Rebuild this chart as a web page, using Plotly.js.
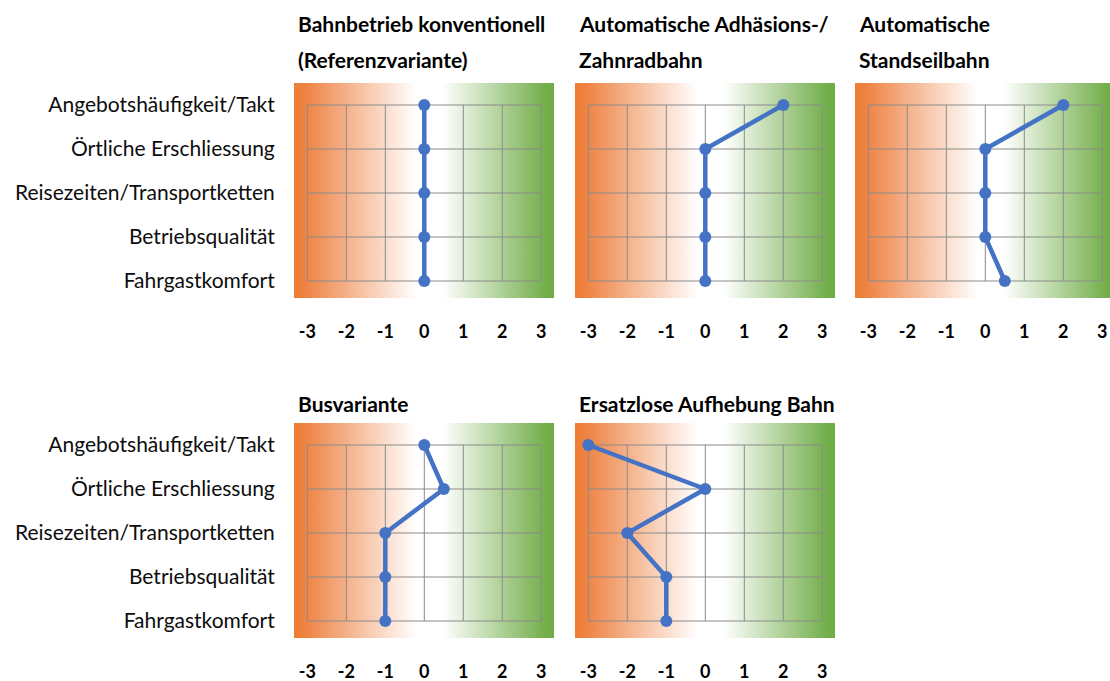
<!DOCTYPE html>
<html>
<head>
<meta charset="utf-8">
<script src="https://cdn.plot.ly/plotly-3.0.1.min.js"></script>
<style>html,body{margin:0;padding:0;background:#fff;}#chart{width:1110px;height:681px;}</style>
</head>
<body>
<div id="chart"></div>
<script>
// ---- data ----
const categories = ['Angebotshäufigkeit/Takt', 'Örtliche Erschliessung', 'Reisezeiten/Transportketten', 'Betriebsqualität', 'Fahrgastkomfort'];
const panelTitles = [
  ['Bahnbetrieb konventionell', '(Referenzvariante)'],
  ['Automatische Adhäsions-/', 'Zahnradbahn'],
  ['Automatische', 'Standseilbahn'],
  ['Busvariante'],
  ['Ersatzlose Aufhebung Bahn']
];
const valuesBahnKonventionell = [0, 0, 0, 0, 0];
const valuesAdhaesionZahnrad = [2, 0, 0, 0, 0];
const valuesStandseilbahn = [2, 0, 0, 0, 0.5];
const valuesBusvariante = [0, 0.5, -1, -1, -1];
const valuesAufhebung = [-3, 0, -2, -1, -1];
const xTickVals = [-3, -2, -1, 0, 1, 2, 3];
const xTickText = ['-3', '-2', '-1', '0', '1', '2', '3'];
const panelValues = [valuesBahnKonventionell, valuesAdhaesionZahnrad, valuesStandseilbahn, valuesBusvariante, valuesAufhebung];

// ---- layout geometry ----
const W = 1110, H = 681;
const FONT = 'Lato, "Open Sans", sans-serif';
const colX0 = [307.3, 588.3, 868.3];
const rowTop = [105, 445];
const unit = 39, catStep = 44;
const padL = 13.3, padR = 12.7, padT = 22, padB = 17;
const panelPos = [[0, 0], [1, 0], [2, 0], [0, 1], [1, 1]];
const gradStart = xTickVals[0] - padL / unit;
const gradStop = xTickVals[xTickVals.length - 1] + padR / unit;
const nCat = categories.length;
const catIdx = categories.map((c, i) => i);

const traces = [];
const layout = {
  width: W, height: H,
  margin: {l: 0, r: 0, t: 0, b: 0},
  paper_bgcolor: '#ffffff', plot_bgcolor: 'rgba(0,0,0,0)',
  showlegend: false,
  annotations: [],
  hovermode: false
};

panelPos.forEach(([col, row], p) => {
  const n = p + 1;
  const xa = 'x' + (n === 1 ? '' : n), ya = 'y' + (n === 1 ? '' : n);
  const x0 = colX0[col];
  const gridW = unit * (xTickVals.length - 1);
  const L = x0 - padL;
  const R = Math.min(x0 + gridW + padR, W);
  const T = rowTop[row] - padT;
  const B = rowTop[row] + catStep * (nCat - 1) + padB;
  const xr = [xTickVals[0] - (x0 - L) / unit, xTickVals[0] + (R - x0) / unit];
  const yr = [(nCat - 1) + padB / catStep, -padT / catStep];

  // gradient background
  traces.push({
    type: 'scatter', mode: 'none', xaxis: xa, yaxis: ya,
    x: [xr[0], xr[1], xr[1], xr[0], xr[0]],
    y: [yr[0], yr[0], yr[1], yr[1], yr[0]],
    fill: 'toself',
    fillgradient: {
      type: 'horizontal', start: gradStart, stop: gradStop,
      colorscale: [[0, '#ED7D31'], [0.04, '#EE8242'], [0.47, '#FFFFFF'], [0.57, '#FFFFFF'], [0.97, '#72AE4A'], [1, '#70AD47']]
    },
    hoverinfo: 'skip'
  });

  // grid lines
  const gx = [], gy = [];
  xTickVals.forEach(v => { gx.push(v, v, null); gy.push(0, nCat - 1, null); });
  catIdx.forEach(i => { gx.push(xTickVals[0], xTickVals[xTickVals.length - 1], null); gy.push(i, i, null); });
  traces.push({
    type: 'scatter', mode: 'lines', xaxis: xa, yaxis: ya,
    x: gx, y: gy, line: {color: '#8a8a8a', width: 1}, hoverinfo: 'skip'
  });

  // data line
  traces.push({
    type: 'scatter', mode: 'lines+markers', xaxis: xa, yaxis: ya,
    x: panelValues[p], y: catIdx,
    line: {color: '#4472C4', width: 4.5},
    marker: {color: '#4472C4', size: 12},
    cliponaxis: false
  });

  const xKey = 'xaxis' + (n === 1 ? '' : n), yKey = 'yaxis' + (n === 1 ? '' : n);
  layout[xKey] = {
    domain: [L / W, R / W], range: xr, anchor: ya,
    showgrid: false, zeroline: false, showline: false,
    tickmode: 'array', tickvals: xTickVals, ticktext: xTickText,
    ticks: 'outside', ticklen: 17, tickcolor: 'rgba(0,0,0,0)',
    tickfont: {family: FONT, size: 18, color: '#000000', weight: 'bold'},
    fixedrange: true
  };
  layout[yKey] = {
    domain: [1 - B / H, 1 - T / H], range: yr, anchor: xa,
    showgrid: false, zeroline: false, showline: false,
    tickmode: 'array', tickvals: catIdx, ticktext: categories,
    showticklabels: col === 0,
    ticks: col === 0 ? 'outside' : '', ticklen: 14, tickcolor: 'rgba(0,0,0,0)',
    tickfont: {family: FONT, size: 21, color: '#0d0d0d'},
    fixedrange: true
  };

  // titles
  const lines = panelTitles[p];
  const firstY = row === 0 ? 23.5 : 404;
  lines.forEach((t, li) => {
    layout.annotations.push({
      xref: 'paper', yref: 'paper',
      x: (L + 2) / W, y: 1 - (firstY + li * 36) / H,
      xanchor: 'left', yanchor: 'middle',
      text: t, showarrow: false,
      font: {family: FONT, size: 21, color: '#000000', weight: 'bold'}
    });
  });
});

Plotly.newPlot('chart', traces, layout, {displayModeBar: false, staticPlot: true});
</script>
</body>
</html>
